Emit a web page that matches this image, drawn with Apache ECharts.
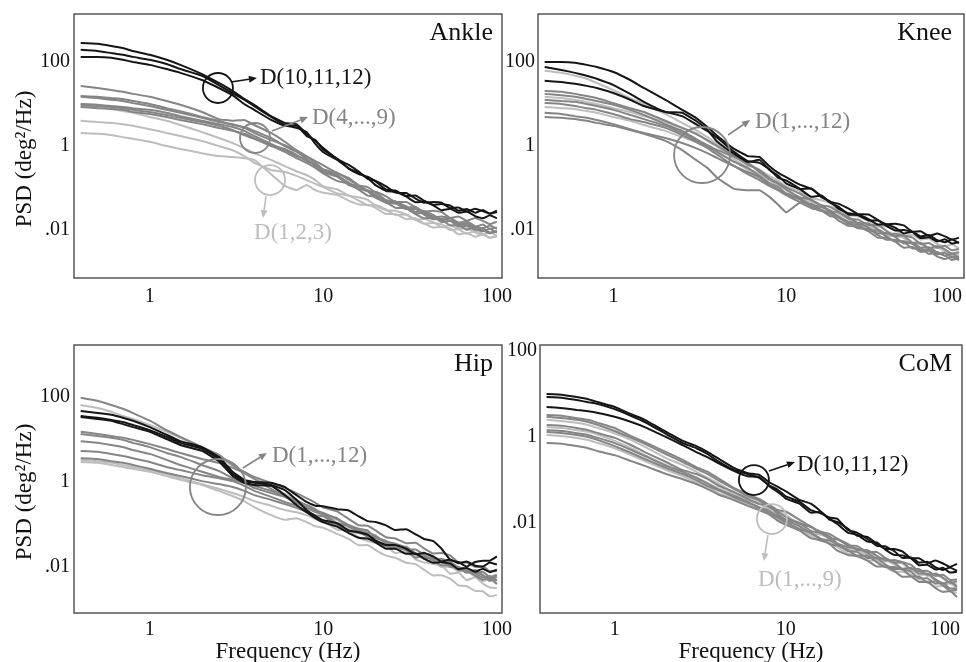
<!DOCTYPE html>
<html>
<head>
<meta charset="utf-8">
<script src="https://cdn.jsdelivr.net/npm/echarts@6.0.0/dist/echarts.min.js"></script>
<style>
html,body{margin:0;padding:0;background:#fff;}
#chart{width:966px;height:662px;}
</style>
</head>
<body>
<div id="chart"></div>
<script>
const FREQ = [0.4,0.5,0.6,0.7,0.8,1,1.25,1.5,2,2.5,3,3.5,4,5,6,7,8,9,10,12,14,16,18,20,23,26,30,34,38,43,48,54,60,67,75,83,91,100];

// All PSD values below are log10(PSD in deg^2/Hz).
// ---- Ankle ----
const ankleD1 = [0.95,0.93,0.88,0.83,0.79, 0.69,0.60,0.50,0.33,0.19, 0.07,-0.05,-0.17,-0.33,-0.48, -0.60,-0.69,-0.81, -0.96,-1.03,-1.18,-1.22,-1.28,-1.42,-1.53,-1.54,-1.63,-1.76,-1.73,-1.81,-1.93,-1.88,-1.98,-1.95,-2.06,-2.11,-2.05,-2.13];
const ankleD2 = [0.60,0.57,0.55,0.52,0.48, 0.40,0.31,0.24,0.12,0, -0.10,-0.24,-0.40,-0.57,-0.62, -0.71,-0.81,-0.90, -0.98,-1.13,-1.18,-1.30,-1.41,-1.41,-1.51,-1.64,-1.63,-1.76,-1.85,-1.83,-1.86,-2.00,-1.98,-2.09,-2.02,-2.09,-2.18,-2.13];
const ankleD3 = [0.31,0.29,0.26,0.21,0.17, 0.10,0,-0.07,-0.17,-0.24, -0.26,-0.29,-0.33,-0.67,-0.95, -1.05,-0.93,-1.05, -1.11,-1.16,-1.30,-1.39,-1.40,-1.47,-1.62,-1.62,-1.74,-1.72,-1.84,-1.94,-1.92,-1.96,-2.10,-2.07,-2.16,-2.10,-2.19,-2.15];
const ankleD4 = [1.43,1.38,1.33,1.29,1.24, 1.17,1.07,0.98,0.81,0.64, 0.60,0.62,0.50,0.31,0.10, -0.10,-0.24,-0.36, -0.46,-0.64,-0.76,-0.94,-1.07,-1.09,-1.20,-1.33,-1.33,-1.46,-1.56,-1.54,-1.57,-1.71,-1.68,-1.78,-1.71,-1.78,-1.86,-1.80];
const ankleD5 = [1.19,1.17,1.14,1.12,1.07, 1.00,0.90,0.83,0.69,0.60, 0.50,0.45,0.36,0.19,0, -0.14,-0.26,-0.40, -0.56,-0.68,-0.89,-0.96,-1.06,-1.21,-1.33,-1.33,-1.43,-1.57,-1.55,-1.64,-1.76,-1.72,-1.82,-1.79,-1.91,-1.96,-1.89,-1.97];
const ankleD6 = [1.17,1.14,1.10,1.07,1.02, 0.95,0.86,0.79,0.67,0.57, 0.52,0.43,0.31,0.14,0.02, -0.12,-0.31,-0.45, -0.56,-0.64,-0.80,-0.94,-0.98,-1.11,-1.29,-1.31,-1.46,-1.45,-1.59,-1.70,-1.68,-1.72,-1.86,-1.83,-1.92,-1.87,-1.97,-1.94];
const ankleD7 = [1.00,0.98,0.95,0.93,0.90, 0.86,0.79,0.71,0.60,0.52, 0.45,0.36,0.24,0.05,-0.10, -0.24,-0.33,-0.48, -0.63,-0.73,-0.93,-1.01,-1.08,-1.23,-1.35,-1.37,-1.47,-1.61,-1.59,-1.68,-1.81,-1.78,-1.88,-1.85,-1.97,-2.03,-1.97,-2.06];
const ankleD8 = [0.98,0.95,0.93,0.90,0.86, 0.81,0.74,0.67,0.57,0.48, 0.38,0.26,0.17,0,-0.14, -0.29,-0.40,-0.52, -0.65,-0.83,-0.90,-1.04,-1.18,-1.21,-1.34,-1.47,-1.48,-1.62,-1.72,-1.71,-1.75,-1.89,-1.88,-1.99,-1.92,-2.00,-2.08,-2.02];
const ankleD9 = [0.93,0.90,0.88,0.86,0.81, 0.76,0.69,0.62,0.52,0.43, 0.36,0.29,0.19,0.02,-0.07, -0.21,-0.36,-0.43, -0.59,-0.71,-0.87,-1.02,-1.05,-1.17,-1.33,-1.36,-1.50,-1.50,-1.63,-1.74,-1.73,-1.78,-1.92,-1.90,-2.00,-1.95,-2.06,-2.04];
const ankleD10 = [2.45,2.43,2.38,2.33,2.26, 2.17,2.05,1.93,1.71,1.50, 1.31,1.12,0.98,0.71,0.55, 0.52,0.29,0.12, -0.05,-0.31,-0.45,-0.61,-0.78,-0.83,-0.96,-1.11,-1.12,-1.25,-1.35,-1.33,-1.35,-1.48,-1.46,-1.56,-1.49,-1.55,-1.61,-1.54];
const ankleD11 = [2.29,2.26,2.21,2.17,2.12, 2.05,1.95,1.83,1.67,1.45, 1.26,1.10,0.95,0.69,0.50, 0.43,0.33,0.05, -0.15,-0.33,-0.53,-0.64,-0.76,-0.93,-1.07,-1.09,-1.20,-1.34,-1.32,-1.41,-1.53,-1.49,-1.59,-1.56,-1.67,-1.72,-1.65,-1.72];
const ankleD12 = [2.12,2.12,2.10,2.05,2.00, 1.93,1.83,1.74,1.57,1.38, 1.21,1.00,0.86,0.62,0.48, 0.48,0.24,0.14, -0.09,-0.30,-0.54,-0.67,-0.73,-0.84,-1.04,-1.06,-1.19,-1.18,-1.30,-1.40,-1.38,-1.42,-1.54,-1.50,-1.59,-1.52,-1.61,-1.57];

// ---- Knee ----
const kneeD1 = [1.79,1.74,1.67,1.60,1.50, 1.33,1.14,1.00,0.76,0.55, 0.38,0.21,0.05,-0.21,-0.40, -0.57,-0.71,-0.83, -0.96,-1.07,-1.24,-1.29,-1.36,-1.52,-1.65,-1.67,-1.78,-1.92,-1.91,-2.00,-2.14,-2.11,-2.23,-2.20,-2.33,-2.39,-2.34,-2.44];
const kneeD2 = [1.17,1.14,1.10,1.05,1.00, 0.90,0.81,0.71,0.57,0.43, 0.31,0.12,-0.02,-0.31,-0.52, -0.67,-0.81,-0.95, -1.05,-1.25,-1.33,-1.48,-1.60,-1.63,-1.74,-1.88,-1.89,-2.03,-2.14,-2.14,-2.19,-2.34,-2.34,-2.47,-2.42,-2.50,-2.60,-2.56];
const kneeD3 = [0.93,0.90,0.88,0.83,0.79, 0.69,0.60,0.50,0.36,0.21, 0.10,-0.02,-0.17,-0.36,-0.57, -0.76,-0.90,-1.02, -1.13,-1.23,-1.40,-1.53,-1.57,-1.68,-1.85,-1.88,-2.02,-2.02,-2.16,-2.27,-2.26,-2.31,-2.46,-2.45,-2.56,-2.52,-2.63,-2.62];
const kneeD4 = [1.31,1.29,1.24,1.19,1.14, 1.02,0.90,0.81,0.60,0.43, 0.29,0.14,0,-0.24,-0.45, -0.57,-0.76,-0.88, -0.99,-1.13,-1.29,-1.41,-1.45,-1.56,-1.73,-1.75,-1.88,-1.88,-2.02,-2.14,-2.13,-2.18,-2.33,-2.31,-2.42,-2.37,-2.48,-2.45];
const kneeD5 = [1.24,1.21,1.17,1.12,1.07, 0.98,0.86,0.74,0.52,0.36, 0.17,0.02,-0.10,-0.26,-0.40, -0.62,-0.79,-0.90, -1.03,-1.22,-1.28,-1.42,-1.55,-1.58,-1.69,-1.83,-1.84,-1.98,-2.09,-2.09,-2.14,-2.30,-2.30,-2.43,-2.38,-2.46,-2.56,-2.52];
const kneeD6 = [1.10,1.07,1.05,1.00,0.95, 0.86,0.74,0.64,0.48,0.31, 0.14,0,-0.14,-0.38,-0.52, -0.71,-0.88,-0.98, -1.13,-1.25,-1.41,-1.45,-1.53,-1.68,-1.80,-1.83,-1.94,-2.08,-2.07,-2.17,-2.32,-2.30,-2.42,-2.41,-2.54,-2.61,-2.56,-2.66];
const kneeD7 = [1.02,1.00,0.95,0.90,0.86, 0.76,0.64,0.57,0.43,0.26, 0.10,-0.05,-0.21,-0.48,-0.62, -0.74,-0.93,-1.05, -1.16,-1.27,-1.44,-1.55,-1.58,-1.69,-1.85,-1.87,-2.01,-2.01,-2.15,-2.27,-2.27,-2.33,-2.48,-2.47,-2.58,-2.54,-2.65,-2.63];
const kneeD8 = [0.79,0.76,0.71,0.67,0.62, 0.52,0.40,0.31,0.19,0.07, -0.05,-0.17,-0.29,-0.48,-0.67, -0.81,-0.95,-1.05, -1.17,-1.33,-1.38,-1.53,-1.67,-1.70,-1.82,-1.96,-1.97,-2.12,-2.23,-2.23,-2.28,-2.44,-2.44,-2.57,-2.52,-2.61,-2.71,-2.67];
const kneeD9 = [0.69,0.67,0.64,0.60,0.55, 0.48,0.38,0.29,0.12,-0.10, -0.33,-0.52,-0.76,-1.02,-1.05, -1.05,-1.21,-1.40, -1.58,-1.35,-1.48,-1.53,-1.61,-1.77,-1.90,-1.92,-2.03,-2.18,-2.18,-2.28,-2.42,-2.40,-2.52,-2.50,-2.63,-2.69,-2.63,-2.72];
const kneeD10 = [2.00,2.00,1.98,1.93,1.88, 1.76,1.57,1.38,1.10,0.86, 0.67,0.45,0.24,-0.07,-0.24, -0.26,-0.48,-0.64, -0.74,-0.92,-1.02,-1.19,-1.33,-1.37,-1.49,-1.62,-1.63,-1.76,-1.86,-1.85,-1.89,-2.04,-2.03,-2.14,-2.08,-2.15,-2.23,-2.18];
const kneeD11 = [1.88,1.81,1.74,1.67,1.60, 1.45,1.24,1.05,0.81,0.79, 0.60,0.38,0.10,-0.19,-0.38, -0.33,-0.57,-0.71, -0.89,-1.02,-1.01,-1.22,-1.32,-1.49,-1.60,-1.63,-1.74,-1.87,-1.86,-1.95,-2.08,-2.04,-2.15,-2.12,-2.24,-2.29,-2.22,-2.31];
const kneeD12 = [1.55,1.52,1.48,1.43,1.38, 1.26,1.10,0.95,0.81,0.71, 0.52,0.36,0.19,-0.14,-0.36, -0.40,-0.55,-0.76, -0.82,-1.02,-1.21,-1.18,-1.35,-1.44,-1.63,-1.64,-1.77,-1.77,-1.90,-2.01,-2.00,-2.05,-2.19,-2.17,-2.27,-2.22,-2.32,-2.29];

// ---- Hip ----
const hipD1 = [1.81,1.74,1.65,1.55,1.48, 1.34,1.18,1.04,0.80,0.59, 0.38,0.24,0.09,-0.09,-0.28, -0.42,-0.56,-0.68, -0.79,-0.89,-1.08,-1.16,-1.21,-1.38,-1.49,-1.52,-1.61,-1.77,-1.76,-1.86,-2.00,-1.99,-2.10,-2.10,-2.23,-2.33,-2.28,-2.40];
const hipD2 = [0.52,0.49,0.45,0.40,0.35, 0.28,0.19,0.09,-0.05,-0.16, -0.26,-0.35,-0.45,-0.56,-0.66, -0.71,-0.78,-0.87, -0.93,-1.12,-1.15,-1.31,-1.39,-1.43,-1.50,-1.67,-1.64,-1.82,-1.89,-1.93,-1.96,-2.16,-2.13,-2.31,-2.24,-2.39,-2.48,-2.49];
const hipD3 = [0.47,0.45,0.40,0.35,0.31, 0.24,0.14,0.05,-0.07,-0.21, -0.33,-0.45,-0.59,-0.78,-0.89, -0.85,-0.94,-1.04, -1.08,-1.22,-1.34,-1.49,-1.48,-1.60,-1.73,-1.78,-1.90,-1.93,-2.06,-2.20,-2.19,-2.28,-2.43,-2.45,-2.56,-2.57,-2.69,-2.66];
const hipD4 = [1.98,1.91,1.81,1.72,1.62, 1.44,1.22,1.06,0.82,0.64, 0.40,0.24,0.12,-0.02,-0.14, -0.26,-0.38,-0.49, -0.60,-0.69,-0.87,-1.02,-1.03,-1.14,-1.30,-1.33,-1.44,-1.43,-1.56,-1.68,-1.67,-1.73,-1.89,-1.89,-2.00,-1.98,-2.10,-2.10];
const hipD5 = [1.18,1.13,1.08,1.04,0.99, 0.89,0.78,0.68,0.54,0.45, 0.33,0.21,0.07,-0.16,-0.35, -0.49,-0.61,-0.71, -0.76,-0.97,-1.02,-1.13,-1.29,-1.29,-1.41,-1.54,-1.56,-1.68,-1.81,-1.77,-1.85,-1.99,-2.01,-2.13,-2.11,-2.19,-2.33,-2.22];
const hipD6 = [1.13,1.08,1.04,0.99,0.92, 0.82,0.68,0.59,0.40,0.26, 0.09,-0.02,-0.14,-0.26,-0.35, -0.42,-0.56,-0.66, -0.73,-0.87,-1.01,-1.10,-1.14,-1.32,-1.40,-1.45,-1.54,-1.70,-1.66,-1.78,-1.90,-1.91,-2.02,-2.03,-2.15,-2.25,-2.21,-2.32];
const hipD7 = [0.96,0.92,0.87,0.82,0.75, 0.66,0.52,0.40,0.24,0.12, 0.05,-0.02,-0.09,-0.21,-0.33, -0.45,-0.54,-0.64, -0.77,-0.85,-1.05,-1.14,-1.19,-1.26,-1.45,-1.46,-1.59,-1.59,-1.71,-1.83,-1.81,-1.88,-2.01,-2.03,-2.14,-2.11,-2.24,-2.18];
const hipD8 = [0.73,0.71,0.66,0.61,0.56, 0.47,0.35,0.28,0.16,0.09, 0.02,-0.09,-0.21,-0.35,-0.47, -0.56,-0.68,-0.78, -0.81,-1.00,-1.02,-1.18,-1.27,-1.31,-1.39,-1.56,-1.52,-1.68,-1.77,-1.79,-1.82,-2.00,-1.99,-2.13,-2.07,-2.19,-2.29,-2.30];
const hipD9 = [0.56,0.54,0.49,0.45,0.40, 0.31,0.21,0.14,0.02,-0.05, -0.12,-0.21,-0.31,-0.42,-0.52, -0.61,-0.71,-0.82, -0.91,-1.03,-1.14,-1.20,-1.24,-1.42,-1.51,-1.55,-1.60,-1.78,-1.73,-1.85,-1.96,-1.96,-2.07,-2.08,-2.20,-2.30,-2.25,-2.40];
const hipD10 = [1.67,1.62,1.58,1.51,1.44, 1.29,1.11,0.96,0.82,0.59, 0.24,0.05,0,-0.02,-0.12, -0.31,-0.47,-0.56, -0.57,-0.64,-0.67,-0.81,-0.92,-0.94,-1.02,-1.13,-1.11,-1.23,-1.34,-1.39,-1.57,-1.84,-1.88,-1.99,-1.88,-1.85,-1.85,-1.75];
const hipD11 = [1.55,1.51,1.46,1.41,1.34, 1.22,1.06,0.92,0.78,0.54, 0.19,0.02,-0.02,-0.07,-0.19, -0.42,-0.66,-0.80, -0.90,-0.97,-1.14,-1.18,-1.24,-1.38,-1.48,-1.48,-1.57,-1.70,-1.67,-1.75,-1.87,-1.82,-1.91,-1.87,-1.97,-1.99,-1.89,-1.94];
const hipD12 = [1.53,1.48,1.44,1.36,1.29, 1.18,1.01,0.87,0.73,0.49, 0.14,-0.02,-0.07,-0.09,-0.31, -0.54,-0.71,-0.85, -0.95,-1.05,-1.20,-1.31,-1.33,-1.42,-1.57,-1.57,-1.69,-1.68,-1.80,-1.90,-1.88,-1.92,-2.05,-2.02,-2.11,-2.04,-2.12,-2.06];

// ---- CoM ----
const comD1 = [0.40,0.37,0.33,0.28,0.21, 0.09,-0.07,-0.23,-0.49,-0.65, -0.81,-0.95,-1.07,-1.30,-1.40, -1.49,-1.67,-1.70, -1.82,-2.00,-2.07,-2.23,-2.35,-2.37,-2.48,-2.62,-2.63,-2.77,-2.89,-2.88,-2.94,-3.09,-3.10,-3.23,-3.20,-3.29,-3.41,-3.42];
const comD2 = [0.23,0.21,0.16,0.12,0.05, -0.09,-0.26,-0.42,-0.65,-0.81, -0.93,-1.07,-1.19,-1.33,-1.47, -1.53,-1.70,-1.81, -1.98,-2.03,-2.23,-2.27,-2.36,-2.50,-2.61,-2.63,-2.74,-2.88,-2.86,-2.96,-3.10,-3.08,-3.20,-3.20,-3.34,-3.43,-3.40,-3.52];
const comD3 = [0.05,0.02,-0.02,-0.07,-0.14, -0.26,-0.42,-0.56,-0.77,-0.91, -1.05,-1.16,-1.30,-1.44,-1.58, -1.70,-1.81,-1.93, -2.00,-2.12,-2.30,-2.42,-2.45,-2.56,-2.71,-2.74,-2.87,-2.87,-3.01,-3.13,-3.13,-3.20,-3.35,-3.35,-3.48,-3.46,-3.59,-3.62];
const comD4 = [0.51,0.49,0.44,0.40,0.33, 0.21,0.02,-0.12,-0.35,-0.53, -0.70,-0.81,-0.95,-1.19,-1.33, -1.44,-1.58,-1.70, -1.73,-1.92,-2.09,-2.20,-2.25,-2.36,-2.52,-2.53,-2.67,-2.67,-2.81,-2.92,-2.91,-2.97,-3.12,-3.11,-3.23,-3.20,-3.32,-3.31];
const comD5 = [0.47,0.44,0.40,0.35,0.28, 0.14,-0.02,-0.16,-0.40,-0.58, -0.74,-0.86,-1.00,-1.21,-1.37, -1.47,-1.63,-1.74, -1.86,-2.01,-2.09,-2.23,-2.36,-2.38,-2.49,-2.62,-2.63,-2.76,-2.87,-2.86,-2.91,-3.07,-3.07,-3.20,-3.17,-3.27,-3.39,-3.35];
const comD6 = [0.28,0.26,0.21,0.16,0.09, -0.02,-0.19,-0.35,-0.58,-0.77, -0.86,-0.98,-1.12,-1.28,-1.44, -1.56,-1.60,-1.79, -1.92,-1.99,-2.18,-2.23,-2.31,-2.47,-2.56,-2.59,-2.69,-2.83,-2.82,-2.92,-3.06,-3.04,-3.17,-3.17,-3.31,-3.40,-3.36,-3.48];
const comD7 = [0.16,0.14,0.09,0.05,-0.02, -0.14,-0.30,-0.44,-0.67,-0.81, -0.95,-1.09,-1.21,-1.37,-1.51, -1.63,-1.72,-1.84, -1.93,-2.07,-2.24,-2.37,-2.40,-2.50,-2.65,-2.67,-2.81,-2.81,-2.96,-3.07,-3.07,-3.13,-3.29,-3.28,-3.41,-3.39,-3.52,-3.52];
const comD8 = [0.12,0.09,0.05,0,-0.07, -0.21,-0.37,-0.51,-0.72,-0.86, -1.00,-1.14,-1.23,-1.40,-1.53, -1.65,-1.77,-1.88, -1.98,-2.14,-2.22,-2.36,-2.49,-2.52,-2.62,-2.76,-2.76,-2.91,-3.02,-3.02,-3.07,-3.24,-3.24,-3.38,-3.35,-3.45,-3.57,-3.55];
const comD9 = [-0.14,-0.16,-0.21,-0.26,-0.33, -0.42,-0.56,-0.67,-0.86,-0.98, -1.09,-1.21,-1.33,-1.47,-1.60, -1.70,-1.79,-1.95, -2.04,-2.17,-2.35,-2.40,-2.48,-2.64,-2.74,-2.77,-2.87,-3.01,-3.01,-3.11,-3.25,-3.24,-3.37,-3.37,-3.51,-3.60,-3.58,-3.72];
const comD10 = [1.00,0.98,0.93,0.88,0.81, 0.70,0.53,0.40,0.12,-0.09, -0.21,-0.35,-0.49,-0.72,-0.84, -0.88,-1.05,-1.16, -1.26,-1.46,-1.55,-1.73,-1.92,-1.97,-2.13,-2.29,-2.32,-2.48,-2.60,-2.60,-2.66,-2.82,-2.82,-2.93,-2.87,-2.94,-3.02,-2.95];
const comD11 = [0.93,0.91,0.86,0.81,0.77, 0.65,0.49,0.35,0.07,-0.14, -0.26,-0.40,-0.56,-0.77,-0.86, -0.95,-1.12,-1.23, -1.38,-1.50,-1.70,-1.77,-1.87,-1.90,-2.16,-2.22,-2.37,-2.53,-2.54,-2.65,-2.81,-2.80,-2.92,-2.90,-3.03,-3.09,-3.03,-3.11];
const comD12 = [0.70,0.67,0.63,0.60,0.56, 0.47,0.35,0.23,0,-0.19, -0.35,-0.47,-0.60,-0.79,-0.91, -0.93,-1.14,-1.28, -1.43,-1.55,-1.76,-1.74,-1.90,-2.02,-2.22,-2.27,-2.43,-2.45,-2.61,-2.74,-2.75,-2.82,-2.98,-2.97,-3.08,-3.04,-3.15,-3.13];

// Panel titles and which curves are in each colour group
const TITLES = ['Ankle', 'Knee', 'Hip', 'CoM'];
const LIGHT_CURVES = [[ankleD1,ankleD2,ankleD3],[kneeD1,kneeD2,kneeD3],[hipD1,hipD2,hipD3],[comD1,comD2,comD3]];
const MID_CURVES = [[ankleD4,ankleD5,ankleD6,ankleD7,ankleD8,ankleD9],[kneeD4,kneeD5,kneeD6,kneeD7,kneeD8,kneeD9],[hipD4,hipD5,hipD6,hipD7,hipD8,hipD9],[comD4,comD5,comD6,comD7,comD8,comD9]];
const DARK_CURVES = [[ankleD10,ankleD11,ankleD12],[kneeD10,kneeD11,kneeD12],[hipD10,hipD11,hipD12],[comD10,comD11,comD12]];

// Axis tick labels (by decade exponent)
const X_TICK_LABELS = {0:'1', 1:'10', 2:'100'};
const Y_TICK_LABELS = {2:'100', 0:'1', '-2':'.01'};

// ---------- layout / styling ----------
const FONT = "'Liberation Serif','Times New Roman',serif";
const BLACK = '#151515', MID = '#858585', LIGHT = '#bdbdbd';
const GRIDS = [
  {left:74, top:14, width:428, height:264},
  {left:538, top:14, width:426, height:264},
  {left:74, top:345, width:428, height:268},
  {left:540, top:345, width:422, height:268}
];
const Y_EXP_RANGE = [[-3.14,3.14],[-3.14,3.14],[-3.08,3.22],[-4.09,2.14]];
const X_RANGE = [0.366, 107];

function decadeFormatter(map, shiftLastExp){
  return function(v){
    const e = Math.log10(v), r = Math.round(e);
    if (Math.abs(e - r) < 1e-6 && map[r] !== undefined) {
      if (shiftLastExp !== undefined && r === shiftLastExp) return '{s|' + map[r] + '}';
      return map[r];
    }
    return '';
  };
}

const grid = GRIDS.map(g => Object.assign({show:true, borderColor:'#555', borderWidth:1.5, backgroundColor:'transparent', outerBoundsMode:'none', containLabel:false}, g));

const xAxis = GRIDS.map((g,i) => ({
  type:'log', logBase:10, gridIndex:i, min:X_RANGE[0], max:X_RANGE[1],
  axisLine:{show:false}, axisTick:{show:false}, splitLine:{show:false}, minorTick:{show:false},
  axisLabel:{
    formatter:decadeFormatter(X_TICK_LABELS, i%2===1 ? 2 : undefined),
    fontFamily:FONT, fontSize:20, color:'#111', margin: i<2 ? 9 : 7, hideOverlap:false,
    rich:{s:{fontFamily:FONT, fontSize:20, color:'#111', padding:[0,24,0,0]}}
  },
  name: i>=2 ? 'Frequency (Hz)' : '', nameLocation:'middle', nameGap:27,
  nameTextStyle:{fontFamily:FONT, fontSize:23, color:'#111'}
}));

const yAxis = GRIDS.map((g,i) => ({
  type:'log', logBase:10, gridIndex:i,
  min:Math.pow(10, Y_EXP_RANGE[i][0]), max:Math.pow(10, Y_EXP_RANGE[i][1]),
  axisLine:{show:false}, axisTick:{show:false}, splitLine:{show:false}, minorTick:{show:false},
  axisLabel:{formatter:decadeFormatter(Y_TICK_LABELS), fontFamily:FONT, fontSize:20, color:'#111', margin: i%2===0 ? 4 : 3, hideOverlap:false},
  name: i%2===0 ? 'PSD (deg²/Hz)' : '', nameLocation:'middle', nameGap:38,
  nameTextStyle:{fontFamily:FONT, fontSize:23, color:'#111', padding:[0,26,0,0]}
}));

const series = [];
function addCurves(panel, curves, color){
  curves.forEach(arr => {
    series.push({
      type:'line', xAxisIndex:panel, yAxisIndex:panel,
      data: FREQ.map((f,k) => [f, Math.pow(10, arr[k])]),
      showSymbol:false, symbol:'none', smooth:0.1, silent:true,
      lineStyle:{width:2, color:color}, itemStyle:{color:color},
      emphasis:{disabled:true}
    });
  });
}
for (let p=0; p<4; p++){
  addCurves(p, LIGHT_CURVES[p], LIGHT);
  addCurves(p, MID_CURVES[p], MID);
  addCurves(p, DARK_CURVES[p], BLACK);
}

const title = TITLES.map((t,i) => ({
  text:t, right: i%2===0 ? 473 : 14, top: i<2 ? 20 : 351, padding:0,
  textStyle:{fontFamily:FONT, fontSize:26, fontWeight:'normal', color:'#111'}
}));

const chart = echarts.init(document.getElementById('chart'), null, {renderer:'canvas'});
chart.setOption({
  animation:false, backgroundColor:'#fff',
  title, grid, xAxis, yAxis, series
});

// Annotations: anchored at a data point (frequency, PSD), with pixel offsets for arrow and label
const ANNOTATIONS = [
  {panel:0, f:2.47, v:24,     r:15, color:BLACK, arrow:[13,-6,39,-10],  text:'D(10,11,12)', tx:42, ty:-10, align:'left'},
  {panel:0, f:4.04, v:1.55,   r:15, color:MID,   arrow:[17,-7,53,-21],  text:'D(4,...,9)',  tx:57, ty:-20, align:'left'},
  {panel:0, f:4.93, v:0.155,  r:15, color:LIGHT, arrow:[-4,16,-7,38],   text:'D(1,2,3)',    tx:23, ty:53,  align:'center'},
  {panel:1, f:3.26, v:0.61,   r:28, color:MID,   arrow:[26,-20,48,-35], text:'D(1,...,12)', tx:53, ty:-33, align:'left'},
  {panel:2, f:2.47, v:0.762,  r:28, color:MID,   arrow:[25,-19,49,-34], text:'D(1,...,12)', tx:54, ty:-31, align:'left'},
  {panel:3, f:6.51, v:0.1,    r:15, color:BLACK, arrow:[15,-9,41,-18],  text:'D(10,11,12)', tx:43, ty:-15, align:'left'},
  {panel:3, f:8.29, v:0.0124, r:15, color:LIGHT, arrow:[-4,16,-8,42],   text:'D(1,...,9)',  tx:28, ty:61,  align:'center'}
];

const graphics = [];
ANNOTATIONS.forEach(a => {
  const c = chart.convertToPixel({xAxisIndex:a.panel, yAxisIndex:a.panel}, [a.f, a.v]);
  const cx = c[0], cy = c[1];
  graphics.push({type:'circle', z:100, shape:{cx, cy, r:a.r}, style:{fill:'none', stroke:a.color, lineWidth:1.8}, silent:true});
  const x1 = cx + a.arrow[0], y1 = cy + a.arrow[1], x2 = cx + a.arrow[2], y2 = cy + a.arrow[3];
  const len = Math.hypot(x2-x1, y2-y1), dx = (x2-x1)/len, dy = (y2-y1)/len;
  const hl = 8, hw = 3.5;
  const bx = x2 - dx*hl, by = y2 - dy*hl;
  graphics.push({type:'line', z:100, shape:{x1, y1, x2:bx, y2:by}, style:{stroke:a.color, lineWidth:1.6}, silent:true});
  graphics.push({type:'polygon', z:100, shape:{points:[[x2,y2],[bx - dy*hw, by + dx*hw],[bx + dy*hw, by - dx*hw]]}, style:{fill:a.color}, silent:true});
  graphics.push({type:'text', z:100, silent:true, style:{
    x: cx + a.tx, y: cy + a.ty, text:a.text, fill:a.color,
    font:'23px ' + FONT, align:a.align, verticalAlign:'middle', textAlign:a.align, textVerticalAlign:'middle'
  }});
});
chart.setOption({graphic: graphics});
</script>
</body>
</html>
